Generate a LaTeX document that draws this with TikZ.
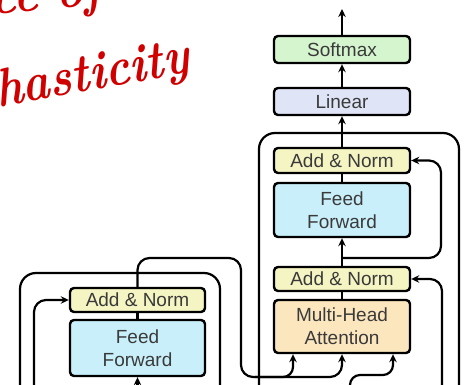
\documentclass[tikz,border=0pt]{standalone}
\usepackage{fontspec}
\newfontfamily\labelfont{Liberation Sans}
\usetikzlibrary{arrows.meta}

\definecolor{labelgray}{HTML}{3A3A3A}
\definecolor{softmaxfill}{HTML}{D5F5CF}
\definecolor{linearfill}{HTML}{DFE4F6}
\definecolor{normfill}{HTML}{F5F4C3}
\definecolor{ffnfill}{HTML}{C9F0FA}
\definecolor{attnfill}{HTML}{FBE6BE}
\definecolor{handred}{HTML}{D00000}

\begin{document}
\begin{tikzpicture}[x=1pt,y=-1pt,
  block/.style={draw=black, line width=2.4pt, rounded corners=4pt,
    minimum width=136pt, inner sep=0pt, text=labelgray, align=center,
    font=\labelfont\fontsize{19}{23}\selectfont},
  conn/.style={line width=2.2pt, rounded corners=12pt},
  arr/.style={conn, -{Stealth[length=8pt,width=7.5pt]}},
  frame/.style={line width=2.2pt, rounded corners=16pt},
  hand/.style={text=handred, inner sep=0pt, xscale=0.85, transform shape,
    font=\fontsize{54}{54}\selectfont\bfseries\itshape}]
\useasboundingbox (0,0) rectangle (466,385);
\clip (0,0) rectangle (466,385);

% handwritten note
\node[hand, anchor=base east, rotate=4] (notea) at (103,5) {Source of};
\node[hand, anchor=base west, rotate=9] (noteb) at (-2,108) {hasticity};

% outer frames of the encoder and decoder stacks
\draw[frame] (20,400) -- (20,273) -- (220,273) -- (220,400);
\draw[frame] (259,400) -- (259,133) -- (459,133) -- (459,400);

% decoder blocks
\node[block, fill=softmaxfill, minimum height=27pt] (softmax) at (342,49.5) {Softmax};
\node[block, fill=linearfill,  minimum height=27pt] (linear)  at (342,101.5) {Linear};
\node[block, fill=normfill,    minimum height=25pt] (an2)     at (342,160.5) {Add \& Norm};
\node[block, fill=ffnfill,     minimum height=54pt] (ff2)     at (342,210) {Feed\\Forward};
\node[block, fill=normfill,    minimum height=24pt] (an1)     at (342,279) {Add \& Norm};
\node[block, fill=attnfill,    minimum height=53pt] (mha)     at (342,326.5) {Multi-Head\\Attention};

% encoder blocks
\node[block, fill=normfill, minimum width=135pt, minimum height=24pt] (encan) at (137.5,300) {Add \& Norm};
\node[block, fill=ffnfill,  minimum width=135pt, minimum height=56pt] (encff) at (137.5,348) {Feed\\Forward};

% free ends and branch points
\coordinate (out)    at (342,9);
\coordinate (br2)    at (342,258);
\coordinate (res2)   at (441,258);
\coordinate (res1)   at (442,400);
\coordinate (encres) at (34,400);
\coordinate (encin)  at (137.5,400);
\coordinate (qin)    at (350,395);

% decoder data path
\draw[arr] (softmax.north) -- (out);
\draw[arr] (linear.north) -- (softmax.south);
\draw[arr] (an2.north) -- (linear.south);
\draw[conn] (ff2.north) -- (an2.south);
\draw[arr] (an1.north) -- (ff2.south);
\draw[conn] (mha.north) -- (an1.south);

% decoder residual connections
\draw[arr] (br2) -- (res2) -- (res2 |- an2.east) -- (an2.east);
\draw[arr] (res1) -- (res1 |- an1.east) -- (an1.east);

% encoder
\draw[conn] (encff.north) -- (encan.south);
\draw[arr] (encin) -- (encff.south);
\draw[arr] (encres) -- (encres |- encan.west) -- (encan.west);

% encoder output into the decoder attention
\draw[arr] (encan.north) -- (137.5,258) -- (241,258) -- (241,377) -- (342,377) -- (mha.south);
\draw[arr, rounded corners=10pt] (255,377) -- (293,377) -- (293,340 |- mha.south);
\draw[arr, rounded corners=10pt] (qin) -- (350,375) -- (393,375) -- (393,340 |- mha.south);
\end{tikzpicture}
\end{document}
